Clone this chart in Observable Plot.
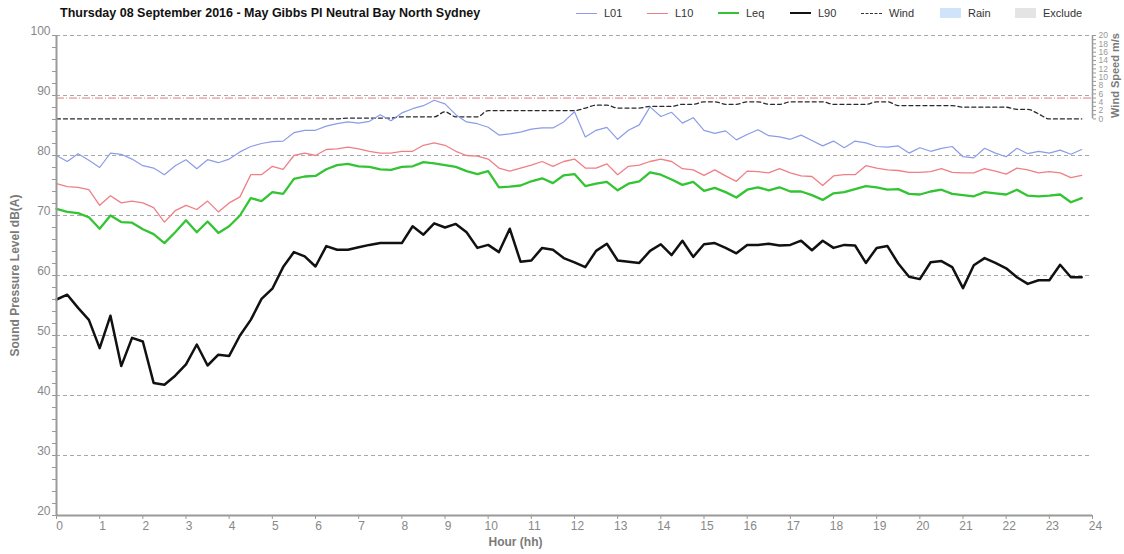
<!DOCTYPE html>
<html>
<head>
<meta charset="utf-8">
<script src="https://cdn.jsdelivr.net/npm/d3@7"></script>
<script src="https://cdn.jsdelivr.net/npm/@observablehq/plot@0.6"></script>
<style>
  body { margin: 0; background: #fff; font-family: "Liberation Sans", Arial, sans-serif; }
  #wrap { position: relative; width: 1124px; }
  #header { position: relative; width: 1124px; height: 24px; }
  #title { position: absolute; left: 60px; top: 6px; font-size: 12.5px; font-weight: bold; color: #111; white-space: nowrap; }
  .lg { position: absolute; top: 7px; font-size: 11px; color: #333; white-space: nowrap; display: flex; align-items: center; }
  .sw { display: inline-block; width: 21px; margin-right: 7px; }
</style>
</head>
<body>
<div id="wrap">
  <div id="header">
    <div id="title">Thursday 08 September 2016 - May Gibbs Pl Neutral Bay North Sydney</div>
    <div id="legend"></div>
  </div>
  <div id="chart"></div>
</div>
<script>
// ---- data (15-minute intervals, hour of day) ----
const hours = d3.range(96).map(i => i / 4);

const L01 = [
  80.0, 79.0, 80.3, 79.2, 78.0, 80.4, 80.2, 79.4, 78.3, 77.9, 76.8, 78.3, 79.3, 77.8, 79.3, 78.8,
  79.4, 80.6, 81.5, 82.0, 82.3, 82.4, 83.8, 84.2, 84.2, 84.9, 85.3, 85.6, 85.4, 85.7, 86.8, 85.8,
  87.1, 87.8, 88.3, 89.2, 88.6, 86.8, 85.6, 85.3, 84.7, 83.4, 83.6, 83.9, 84.4, 84.6, 84.6, 85.6,
  87.3, 83.1, 84.2, 84.7, 82.7, 84.2, 85.1, 88.1, 86.5, 87.2, 85.4, 86.3, 84.2, 83.7, 84.1, 82.6,
  83.5, 84.3, 83.3, 83.1, 82.7, 83.4, 82.5, 81.6, 82.4, 81.3, 82.4, 82.1, 81.5, 81.4, 81.6, 80.4,
  81.3, 80.7, 81.2, 81.5, 79.8, 79.6, 81.2, 80.4, 79.8, 81.2, 80.3, 80.7, 80.4, 80.9, 80.2, 81.0
];
const L10 = [
  75.3, 74.8, 74.7, 74.3, 71.7, 73.3, 72.1, 72.4, 72.1, 71.3, 68.9, 70.8, 71.7, 71.0, 72.4, 70.6,
  72.1, 73.1, 76.8, 76.8, 78.2, 77.7, 80.0, 80.4, 80.0, 81.0, 81.1, 81.4, 81.1, 80.7, 80.4, 80.4,
  80.7, 80.7, 81.7, 82.1, 81.7, 80.7, 80.0, 79.9, 79.4, 77.9, 77.4, 77.9, 78.4, 79.0, 78.2, 79.0,
  79.4, 77.9, 77.9, 78.6, 76.8, 78.2, 78.4, 79.0, 79.4, 79.0, 77.8, 77.6, 76.7, 77.6, 76.6, 75.7,
  77.4, 77.3, 77.1, 77.8, 77.1, 76.6, 76.5, 75.0, 76.6, 76.8, 76.8, 78.3, 77.9, 77.6, 77.5, 77.2,
  77.2, 77.3, 77.8, 77.2, 77.1, 77.1, 77.8, 77.4, 76.9, 77.9, 77.6, 77.1, 77.3, 77.1, 76.3, 76.7
];
const Leq = [
  71.1, 70.6, 70.4, 69.7, 67.8, 70.0, 68.9, 68.8, 67.7, 66.9, 65.4, 67.2, 69.2, 67.2, 69.0, 67.1,
  68.2, 70.0, 72.9, 72.4, 73.9, 73.6, 76.1, 76.5, 76.6, 77.7, 78.4, 78.6, 78.2, 78.1, 77.7, 77.6,
  78.1, 78.2, 78.9, 78.7, 78.4, 78.1, 77.4, 76.9, 77.4, 74.7, 74.8, 75.0, 75.7, 76.2, 75.4, 76.7,
  76.9, 74.9, 75.3, 75.6, 74.2, 75.3, 75.7, 77.2, 76.8, 76.0, 75.1, 75.6, 74.1, 74.6, 73.9, 73.0,
  74.3, 74.7, 74.2, 74.7, 74.0, 74.0, 73.4, 72.6, 73.7, 73.9, 74.4, 74.9, 74.7, 74.3, 74.4, 73.6,
  73.5, 74.0, 74.3, 73.6, 73.4, 73.2, 73.9, 73.7, 73.5, 74.3, 73.3, 73.2, 73.3, 73.5, 72.2, 72.9
];
const L90 = [
  56.0, 56.8, 54.6, 52.6, 47.9, 53.3, 44.9, 49.6, 49.0, 42.1, 41.8, 43.3, 45.2, 48.5, 45.0, 46.8,
  46.6, 50.0, 52.6, 56.1, 57.8, 61.4, 63.9, 63.2, 61.5, 64.9, 64.3, 64.3, 64.7, 65.1, 65.4, 65.4,
  65.4, 68.2, 66.8, 68.7, 68.0, 68.6, 67.2, 64.6, 65.1, 63.9, 67.8, 62.3, 62.5, 64.6, 64.3, 62.9,
  62.2, 61.4, 64.1, 65.3, 62.5, 62.3, 62.1, 64.1, 65.2, 63.4, 65.8, 63.1, 65.2, 65.4, 64.6, 63.7,
  65.1, 65.1, 65.3, 65.0, 65.1, 65.8, 64.2, 65.8, 64.6, 65.1, 65.0, 62.1, 64.6, 64.9, 62.0, 59.8,
  59.4, 62.2, 62.4, 61.4, 57.9, 61.7, 62.9, 62.1, 61.2, 59.7, 58.6, 59.2, 59.2, 61.8, 59.7, 59.7
];
// wind speed, m/s (right axis)
const wind = [
  0, 0, 0, 0, 0, 0, 0, 0, 0, 0, 0, 0, 0, 0, 0, 0,
  0, 0, 0, 0, 0, 0, 0, 0, 0, 0, 0, 0.2, 0.2, 0.2, 0.2, 0.2,
  0.5, 0.5, 0.5, 0.5, 1.7, 0.5, 0.5, 0.5, 2.0, 2.0, 2.0, 2.0, 2.0, 2.0, 2.0, 2.0,
  2.0, 2.6, 3.3, 3.3, 2.6, 2.6, 2.6, 3.0, 3.0, 3.0, 3.5, 3.5, 4.1, 4.1, 3.5, 3.5,
  4.1, 4.1, 3.5, 3.5, 4.1, 4.1, 4.1, 4.1, 3.5, 3.5, 3.5, 3.5, 4.1, 4.1, 3.2, 3.2,
  3.2, 3.2, 3.2, 3.2, 2.8, 2.8, 2.8, 2.8, 2.8, 2.3, 2.3, 1.2, 0, 0, 0, 0
];
const windThreshold = 5;

const xTicks = [0,1,2,3,4,5,6,7,8,9,10,11,12,13,14,15,16,17,18,19,20,21,22,23,24];
const yTickLabels = [20, 30, 40, 50, 60, 70, 80, 90, 100];
const yMinorTicks = d3.range(20, 101, 2);
const gridLevels = [30, 40, 50, 60, 70, 80, 90, 100];
const windTicks = d3.range(0, 21, 1);

const seriesNames = ["L01", "L10", "Leq", "L90"];
const seriesColors = ["#8c9ce8", "#ef7f86", "#33c433", "#111111"];
const seriesWidths = [1.2, 1.3, 2.3, 2.5];

// wind axis occupies the top band of the chart: 0..20 m/s mapped to this dB band
const windBand = [86.1, 100];
const windMax = 20;
const toDb = w => windBand[0] + w * (windBand[1] - windBand[0]) / windMax;

const rows = hours.map((h, i) => ({h, L01: L01[i], L10: L10[i], Leq: Leq[i], L90: L90[i], windDb: toDb(wind[i])}));

// ---- legend ----
const legendItems = [
  {name: "L01", kind: "line", color: seriesColors[0], w: 1.2, x: 576},
  {name: "L10", kind: "line", color: seriesColors[1], w: 1.3, x: 647},
  {name: "Leq", kind: "line", color: seriesColors[2], w: 2.3, x: 718},
  {name: "L90", kind: "line", color: seriesColors[3], w: 2.5, x: 790},
  {name: "Wind", kind: "dash", color: "#333", w: 1.3, x: 861},
  {name: "Rain", kind: "rect", color: "#cfe4fa", x: 940},
  {name: "Exclude", kind: "rect", color: "#e4e4e4", x: 1015}
];
const legend = d3.select("#legend");
legendItems.forEach(it => {
  const d = legend.append("div").attr("class", "lg").style("left", it.x + "px");
  const s = d.append("span").attr("class", "sw");
  if (it.kind === "line") s.style("height", "0px").style("border-top", `${it.w}px solid ${it.color}`);
  else if (it.kind === "dash") s.style("height", "0px").style("border-top", `${it.w}px dashed ${it.color}`);
  else s.style("height", "10px").style("background", it.color);
  d.append("span").text(it.name);
});

// ---- chart ----
const chart = Plot.plot({
  width: 1124,
  height: 530,
  marginLeft: 56,
  marginRight: 32,
  marginTop: 11,
  marginBottom: 39,
  x: {domain: [0, 24]},
  y: {domain: [20, 100]},
  style: {fontFamily: "'Liberation Sans', Arial, sans-serif", background: "#fff"},
  marks: [
    Plot.ruleY(gridLevels, {stroke: "#a8a8a8", strokeDasharray: "4,3", strokeWidth: 1}),
    Plot.ruleY([toDb(windThreshold)], {stroke: "#e07a7a", strokeDasharray: "8,2,1,2", strokeWidth: 1}),
    Plot.line(rows, {x: "h", y: "windDb", stroke: "#2a2a2a", strokeDasharray: "4,3", strokeWidth: 1.3, curve: "monotone-x"}),
    ...seriesNames.map((k, i) => Plot.line(rows, {x: "h", y: k, stroke: seriesColors[i], strokeWidth: seriesWidths[i], strokeLinejoin: "round"})),
    Plot.ruleX([0], {stroke: "#9a9a9a", strokeWidth: 2}),
    Plot.ruleY([20], {stroke: "#9a9a9a", strokeWidth: 2}),
    Plot.ruleX([24], {y1: toDb(0), y2: toDb(windMax), stroke: "#9a9a9a", strokeWidth: 1.5}),
    Plot.axisX({ticks: xTicks, tickSize: 4, tickFormat: () => "", stroke: "#999", label: null}),
    Plot.text(xTicks, {x: d => d, text: d => String(d), frameAnchor: "bottom", lineAnchor: "top", dy: 6, dx: 3, fill: "#888", fontSize: 12}),
    Plot.axisY({ticks: yMinorTicks, tickSize: 4, tickFormat: () => "", stroke: "#999", label: null}),
    Plot.text(yTickLabels, {y: d => d, text: d => String(d), frameAnchor: "left", textAnchor: "end", dx: -6, dy: -4, fill: "#888", fontSize: 12}),
    Plot.axisY({anchor: "right", ticks: windTicks.map(toDb), tickSize: 3, tickFormat: () => "", stroke: "#999", label: null}),
    Plot.text(windTicks.filter(w => w % 2 === 0), {y: d => toDb(d), text: d => String(d), frameAnchor: "right", textAnchor: "start", dx: 6, fill: "#999", fontSize: 8.5}),
    Plot.text(["Sound Pressure Level dB(A)"], {frameAnchor: "left", textAnchor: "middle", lineAnchor: "middle", rotate: -90, dx: -41, fill: "#7a7a7a", fontWeight: "bold", fontSize: 12}),
    Plot.text(["Hour (hh)"], {frameAnchor: "bottom", textAnchor: "middle", lineAnchor: "middle", dx: -59, dy: 27, fill: "#7a7a7a", fontWeight: "bold", fontSize: 12}),
    Plot.text(["Wind Speed m/s"], {frameAnchor: "top-right", textAnchor: "middle", lineAnchor: "middle", rotate: -90, dx: 23, dy: 40, fill: "#7a7a7a", fontWeight: "bold", fontSize: 11})
  ]
});
document.getElementById("chart").appendChild(chart);
</script>
</body>
</html>
